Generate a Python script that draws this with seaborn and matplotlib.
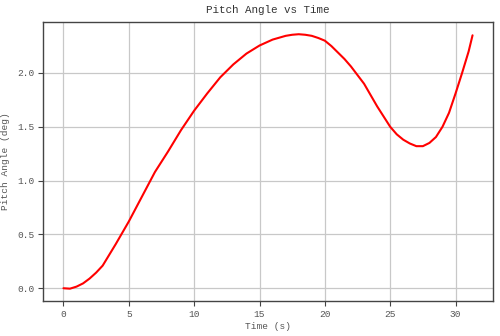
import matplotlib
matplotlib.use("Agg")
import matplotlib.pyplot as plt
import seaborn as sns
import pandas as pd

# time (s) and pitch angle (deg)
time_s = [0, 0.5, 1, 1.5, 2, 2.5, 3, 4, 5, 6, 7, 8, 9, 10, 11, 12, 13, 14,
          15, 16, 17, 17.5, 18, 18.5, 19, 19.5, 20, 20.5, 21, 21.5, 22, 23,
          24, 25, 25.5, 26, 26.5, 27, 27.5, 28, 28.5, 29, 29.5, 30, 30.5, 31, 31.3]
pitch_deg = [0.0, -0.004, 0.015, 0.045, 0.09, 0.145, 0.21, 0.41, 0.62, 0.85,
             1.08, 1.27, 1.47, 1.65, 1.81, 1.96, 2.08, 2.18, 2.255, 2.31,
             2.345, 2.355, 2.36, 2.355, 2.345, 2.325, 2.30, 2.25, 2.19, 2.13,
             2.06, 1.90, 1.69, 1.50, 1.43, 1.38, 1.345, 1.32, 1.32, 1.35,
             1.405, 1.50, 1.63, 1.81, 2.0, 2.20, 2.35]

df = pd.DataFrame({"t": time_s, "pitch": pitch_deg})

sns.set_style("whitegrid")
plt.rcParams["font.family"] = ["Liberation Mono", "DejaVu Sans Mono"]

fig = plt.figure(figsize=(5, 3.36), dpi=100)
ax = fig.add_axes([0.086, 0.103, 0.9, 0.833])

sns.lineplot(data=df, x="t", y="pitch", color="red", linewidth=1.5, ax=ax)

ax.set_xticks([0, 5, 10, 15, 20, 25, 30])
ax.set_yticks([0.0, 0.5, 1.0, 1.5, 2.0])
ax.grid(True, color="#c8c8c8", linewidth=0.9)
for s in ax.spines.values():
    s.set_visible(True)
    s.set_color("#444444")
    s.set_linewidth(1.0)
ax.tick_params(axis="both", which="major", length=3.5, width=0.8, color="#444444",
               labelsize=6.8, labelcolor="#555555", pad=2.5, bottom=True, left=True)

ax.set_title("Pitch Angle vs Time", fontsize=7.8, color="#333333", pad=6)
ax.set_xlabel("Time (s)", fontsize=6.8, color="#555555", labelpad=2)
ax.set_ylabel("Pitch Angle (deg)", fontsize=6.8, color="#555555", labelpad=5)

fig.savefig("out.png", dpi=100)
